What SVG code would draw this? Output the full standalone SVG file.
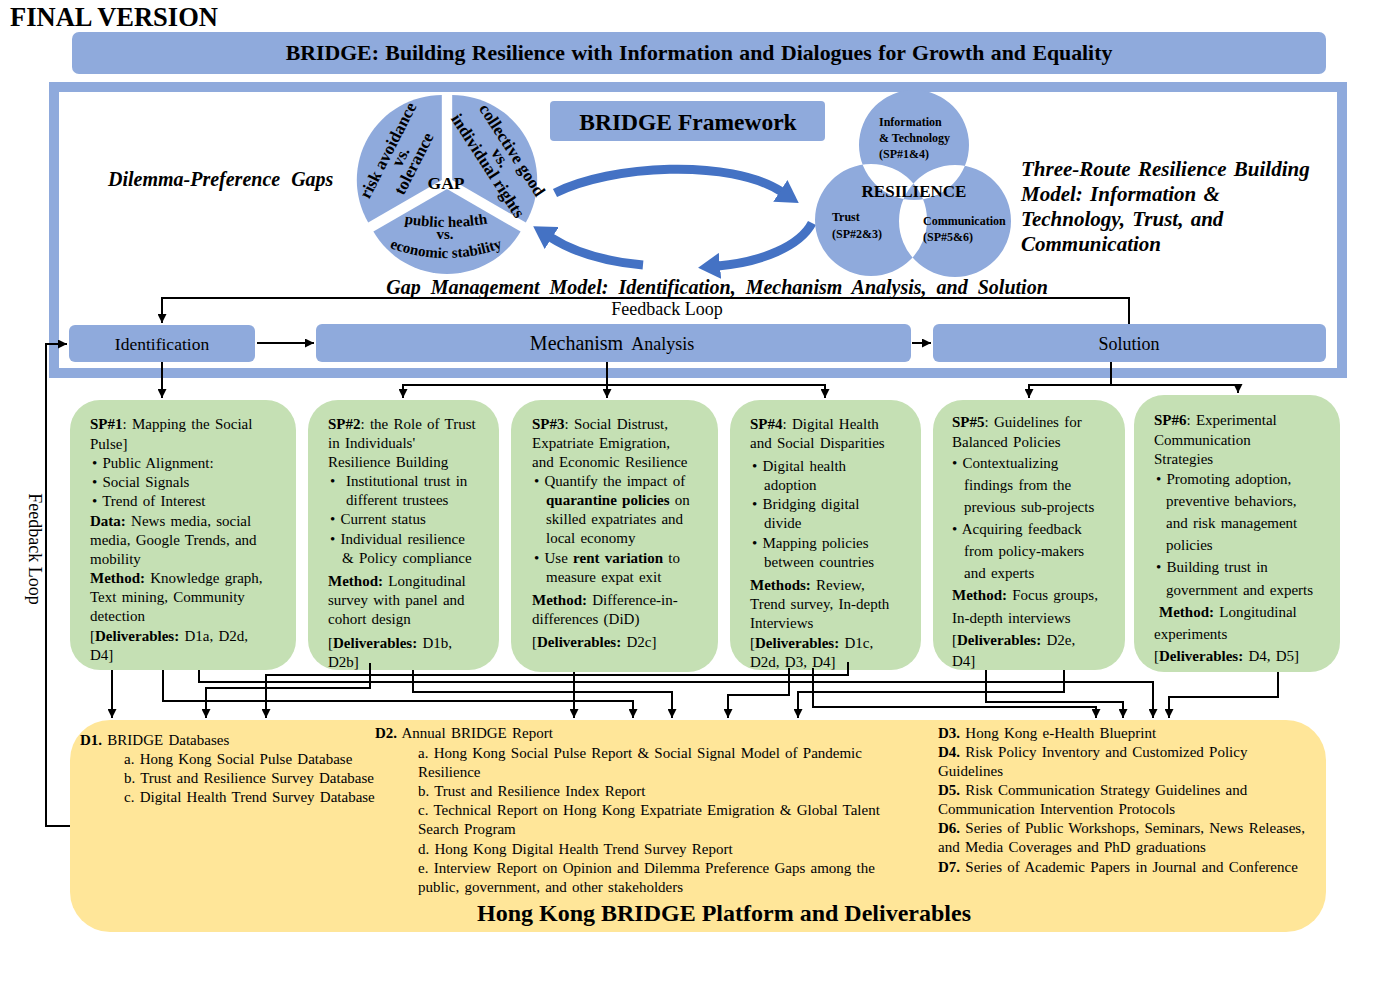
<svg xmlns="http://www.w3.org/2000/svg" width="1399" height="983" viewBox="0 0 1399 983">
<defs>
<style>
text{font-family:"Liberation Serif","Times New Roman",serif;fill:#000}
.b{font-weight:bold}
.bi{font-weight:bold;font-style:italic}
.blue{fill:#8FAADC}
.green{fill:#C5E0B4}
.sp{font-size:15px;word-spacing:1.5px}
.d{font-size:15px;word-spacing:1.5px}
.pie{font-size:17px;font-weight:bold}
.pie2{font-size:15px;font-weight:bold}
.ven{font-size:12px;font-weight:bold}
.con{fill:none;stroke:#000;stroke-width:2}
.big{fill:none;stroke:#4472C4;stroke-width:9}
</style>
<marker id="ah" viewBox="0 0 10 10" refX="10" refY="5" markerWidth="9" markerHeight="9" markerUnits="userSpaceOnUse" orient="auto"><path d="M0,0 L10,5 L0,10 z" fill="#000"/></marker>
<marker id="bh" viewBox="0 0 22 26" refX="2" refY="13" markerWidth="22" markerHeight="26" markerUnits="userSpaceOnUse" orient="auto"><path d="M0,0 L22,13 L0,26 z" fill="#4472C4"/></marker>
</defs>
<rect width="1399" height="983" fill="#fff"/>

<g id="title">
<text x="10" y="26" class="b" font-size="26.5">FINAL VERSION</text>
<rect x="72" y="32" width="1254" height="42" rx="7" class="blue"/>
<text x="699" y="60" class="b" font-size="21.8" text-anchor="middle" word-spacing="1">BRIDGE: Building Resilience with Information and Dialogues for Growth and Equality</text>
</g>

<rect id="frame" x="54" y="87" width="1288" height="286" fill="none" stroke="#8FAADC" stroke-width="10"/>

<g id="framework">
<rect x="550" y="101" width="275" height="40" rx="4" class="blue"/>
<text x="688" y="130" class="b" font-size="23.5" text-anchor="middle">BRIDGE Framework</text>
</g>

<text x="108" y="186" class="bi" font-size="20" word-spacing="6">Dilemma-Preference Gaps</text>

<g id="gap-pie">
<path d="M441.8,180 L441.8,95 A85 85 0 0 0 368.2,222.5 Z" class="blue"/>
<path d="M452.2,180 L452.2,95 A85 85 0 0 1 525.8,222.5 Z" class="blue"/>
<path d="M447,189 L373.4,231.5 A85 85 0 0 0 520.6,231.5 Z" class="blue"/>
<g transform="translate(401,157) rotate(-63)">
<text class="pie" text-anchor="middle" y="-9">risk avoidance</text>
<text class="pie" text-anchor="middle" y="5">vs.</text>
<text class="pie" text-anchor="middle" y="20">tolerance</text>
</g>
<g transform="translate(500,158) rotate(57)">
<text class="pie" text-anchor="middle" y="-9">collective good</text>
<text class="pie" text-anchor="middle" y="5">vs.</text>
<text class="pie" text-anchor="middle" y="20">individual rights</text>
</g>
<path id="arcA" d="M376,217 A250 250 0 0 0 516,217" fill="none"/>
<path id="arcB" d="M371,239.3 A160 160 0 0 0 521,239.3" fill="none"/>
<text class="pie2"><textPath href="#arcA" startOffset="50%" text-anchor="middle">public health</textPath></text>
<text class="pie2" font-size="13" x="445" y="239" text-anchor="middle">vs.</text>
<text class="pie2"><textPath href="#arcB" startOffset="50%" text-anchor="middle">economic stability</textPath></text>
<text x="446" y="189" class="b" font-size="17.5" text-anchor="middle">GAP</text>
</g>

<g id="cycle-arrows">
<path class="big" d="M555,193 C610,165 730,158 782,192" marker-end="url(#bh)"/>
<path class="big" d="M812,223 C800,246 762,262 718,266" marker-end="url(#bh)"/>
<path class="big" d="M643,265 C610,262 578,255 550,237" marker-end="url(#bh)"/>
</g>

<g id="resilience">
<path fill-rule="evenodd" class="blue" d="M859,145 a55,55 0 1,0 110,0 a55,55 0 1,0 -110,0 Z M815,220 a56,56 0 1,0 112,0 a56,56 0 1,0 -112,0 Z M899,221 a56,56 0 1,0 112,0 a56,56 0 1,0 -112,0 Z"/>
<text x="879" y="126" class="ven">Information</text>
<text x="879" y="142" class="ven">&amp; Technology</text>
<text x="879" y="158" class="ven">(SP#1&amp;4)</text>
<text x="914" y="197" class="b" font-size="17" text-anchor="middle">RESILIENCE</text>
<text x="832" y="221" class="ven" font-size="11">Trust</text>
<text x="832" y="238" class="ven" font-size="11">(SP#2&amp;3)</text>
<text x="923" y="225" class="ven" font-size="11">Communication</text>
<text x="923" y="241" class="ven" font-size="11">(SP#5&amp;6)</text>
</g>

<g id="three-route">
<text class="bi" font-size="21" word-spacing="2" x="1021" y="176">Three-Route Resilience Building</text>
<text class="bi" font-size="21" word-spacing="2" x="1021" y="201">Model: Information &amp;</text>
<text class="bi" font-size="21" word-spacing="2" x="1021" y="226">Technology, Trust, and</text>
<text class="bi" font-size="21" word-spacing="2" x="1021" y="251">Communication</text>
</g>

<text x="717" y="294" class="bi" font-size="20" word-spacing="5" text-anchor="middle">Gap Management Model: Identification, Mechanism Analysis, and Solution</text>
<text x="667" y="315" font-size="18" text-anchor="middle">Feedback Loop</text>

<g id="identification">
<rect x="69" y="325" width="186" height="37" rx="6" class="blue"/>
<text x="162" y="350" font-size="17.5" text-anchor="middle">Identification</text>
</g>
<g id="mechanism">
<rect x="316" y="324" width="595" height="38" rx="6" class="blue"/>
<text x="612" y="350" font-size="20" text-anchor="middle" word-spacing="3">Mechanism <tspan font-size="18">Analysis</tspan></text>
</g>
<g id="solution">
<rect x="933" y="324" width="393" height="38" rx="6" class="blue"/>
<text x="1129" y="350" font-size="18" text-anchor="middle">Solution</text>
</g>

<g id="sp1">
<rect x="70" y="400" width="226" height="270" rx="30" class="green"/>
<text class="sp" x="90" y="429"><tspan class="b">SP#1</tspan>: Mapping the Social</text>
<text class="sp" x="90" y="449">Pulse]</text>
<text class="sp" x="92" y="468">•  Public Alignment:</text>
<text class="sp" x="92" y="487">•  Social Signals</text>
<text class="sp" x="92" y="506">•  Trend of Interest</text>
<text class="sp" x="90" y="526"><tspan class="b">Data:</tspan> News media, social</text>
<text class="sp" x="90" y="545">media, Google Trends, and</text>
<text class="sp" x="90" y="564">mobility</text>
<text class="sp" x="90" y="583"><tspan class="b">Method:</tspan> Knowledge graph,</text>
<text class="sp" x="90" y="602">Text mining, Community</text>
<text class="sp" x="90" y="621">detection</text>
<text class="sp" x="90" y="641">[<tspan class="b">Deliverables:</tspan> D1a, D2d,</text>
<text class="sp" x="90" y="660">D4]</text>
</g>

<g id="sp2">
<rect x="308" y="400" width="191" height="270" rx="30" class="green"/>
<text class="sp" x="328" y="429"><tspan class="b">SP#2</tspan>: the Role of Trust</text>
<text class="sp" x="328" y="448">in Individuals'</text>
<text class="sp" x="328" y="467">Resilience Building</text>
<text class="sp" x="330" y="486">•</text><text class="sp" x="346" y="486">Institutional trust in</text>
<text class="sp" x="346" y="505">different trustees</text>
<text class="sp" x="330" y="524">•  Current status</text>
<text class="sp" x="330" y="544">•  Individual resilience</text>
<text class="sp" x="342" y="563">&amp; Policy compliance</text>
<text class="sp" x="328" y="586"><tspan class="b">Method:</tspan> Longitudinal</text>
<text class="sp" x="328" y="605">survey with panel and</text>
<text class="sp" x="328" y="624">cohort design</text>
<text class="sp" x="328" y="648">[<tspan class="b">Deliverables:</tspan> D1b,</text>
<text class="sp" x="328" y="667">D2b]</text>
</g>

<g id="sp3">
<rect x="511" y="400" width="207" height="272" rx="30" class="green"/>
<text class="sp" x="532" y="429"><tspan class="b">SP#3</tspan>: Social Distrust,</text>
<text class="sp" x="532" y="448">Expatriate Emigration,</text>
<text class="sp" x="532" y="467">and Economic Resilience</text>
<text class="sp" x="534" y="486">•  Quantify the impact of</text>
<text class="sp" x="546" y="505"><tspan class="b">quarantine policies</tspan> on</text>
<text class="sp" x="546" y="524">skilled expatriates and</text>
<text class="sp" x="546" y="543">local economy</text>
<text class="sp" x="534" y="563">•  Use <tspan class="b">rent variation</tspan> to</text>
<text class="sp" x="546" y="582">measure expat exit</text>
<text class="sp" x="532" y="605"><tspan class="b">Method:</tspan> Difference-in-</text>
<text class="sp" x="532" y="624">differences (DiD)</text>
<text class="sp" x="532" y="647">[<tspan class="b">Deliverables:</tspan> D2c]</text>
</g>

<g id="sp4">
<rect x="730" y="400" width="191" height="270" rx="30" class="green"/>
<text class="sp" x="750" y="429"><tspan class="b">SP#4</tspan>: Digital Health</text>
<text class="sp" x="750" y="448">and Social Disparities</text>
<text class="sp" x="752" y="471">•  Digital health</text>
<text class="sp" x="764" y="490">adoption</text>
<text class="sp" x="752" y="509">•  Bridging digital</text>
<text class="sp" x="764" y="528">divide</text>
<text class="sp" x="752" y="548">•  Mapping policies</text>
<text class="sp" x="764" y="567">between countries</text>
<text class="sp" x="750" y="590"><tspan class="b">Methods:</tspan> Review,</text>
<text class="sp" x="750" y="609">Trend survey, In-depth</text>
<text class="sp" x="750" y="628">Interviews</text>
<text class="sp" x="750" y="648">[<tspan class="b">Deliverables:</tspan> D1c,</text>
<text class="sp" x="750" y="667">D2d, D3, D4]</text>
</g>

<g id="sp5">
<rect x="933" y="400" width="192" height="270" rx="30" class="green"/>
<text class="sp" x="952" y="427"><tspan class="b">SP#5</tspan>: Guidelines for</text>
<text class="sp" x="952" y="447">Balanced Policies</text>
<text class="sp" x="952" y="468">•  Contextualizing</text>
<text class="sp" x="964" y="490">findings from the</text>
<text class="sp" x="964" y="512">previous sub-projects</text>
<text class="sp" x="952" y="534">•  Acquiring feedback</text>
<text class="sp" x="964" y="556">from policy-makers</text>
<text class="sp" x="964" y="578">and experts</text>
<text class="sp" x="952" y="600"><tspan class="b">Method:</tspan> Focus groups,</text>
<text class="sp" x="952" y="623">In-depth interviews</text>
<text class="sp" x="952" y="645">[<tspan class="b">Deliverables:</tspan> D2e,</text>
<text class="sp" x="952" y="666">D4]</text>
</g>

<g id="sp6">
<rect x="1134" y="395" width="206" height="277" rx="30" class="green"/>
<text class="sp" x="1154" y="425"><tspan class="b">SP#6</tspan>: Experimental</text>
<text class="sp" x="1154" y="445">Communication</text>
<text class="sp" x="1154" y="464">Strategies</text>
<text class="sp" x="1156" y="484">•  Promoting adoption,</text>
<text class="sp" x="1166" y="506">preventive behaviors,</text>
<text class="sp" x="1166" y="528">and risk management</text>
<text class="sp" x="1166" y="550">policies</text>
<text class="sp" x="1156" y="572">•  Building trust in</text>
<text class="sp" x="1166" y="595">government and experts</text>
<text class="sp" x="1159" y="617"><tspan class="b">Method:</tspan> Longitudinal</text>
<text class="sp" x="1154" y="639">experiments</text>
<text class="sp" x="1154" y="661">[<tspan class="b">Deliverables:</tspan> D4, D5]</text>
</g>

<g id="deliverables">
<rect x="70" y="720" width="1256" height="212" rx="40" fill="#FFE699"/>
<text class="d" x="80" y="745"><tspan class="b">D1.</tspan> BRIDGE Databases</text>
<text class="d" x="124" y="764">a. Hong Kong Social Pulse Database</text>
<text class="d" x="124" y="783">b. Trust and Resilience Survey Database</text>
<text class="d" x="124" y="802">c. Digital Health Trend Survey Database</text>
<text class="d" x="375" y="738"><tspan class="b">D2.</tspan> Annual BRIDGE Report</text>
<text class="d" x="418" y="758">a. Hong Kong Social Pulse Report &amp; Social Signal Model of Pandemic</text>
<text class="d" x="418" y="777">Resilience</text>
<text class="d" x="418" y="796">b. Trust and Resilience Index Report</text>
<text class="d" x="418" y="815">c. Technical Report on Hong Kong Expatriate Emigration &amp; Global Talent</text>
<text class="d" x="418" y="834">Search Program</text>
<text class="d" x="418" y="854">d. Hong Kong Digital Health Trend Survey Report</text>
<text class="d" x="418" y="873">e. Interview Report on Opinion and Dilemma Preference Gaps among the</text>
<text class="d" x="418" y="892">public, government, and other stakeholders</text>
<text class="d" x="938" y="738"><tspan class="b">D3.</tspan> Hong Kong e-Health Blueprint</text>
<text class="d" x="938" y="757"><tspan class="b">D4.</tspan> Risk Policy Inventory and Customized Policy</text>
<text class="d" x="938" y="776">Guidelines</text>
<text class="d" x="938" y="795"><tspan class="b">D5.</tspan> Risk Communication Strategy Guidelines and</text>
<text class="d" x="938" y="814">Communication Intervention Protocols</text>
<text class="d" x="938" y="833"><tspan class="b">D6.</tspan> Series of Public Workshops, Seminars, News Releases,</text>
<text class="d" x="938" y="852">and Media Coverages and PhD graduations</text>
<text class="d" x="938" y="872"><tspan class="b">D7.</tspan> Series of Academic Papers in Journal and Conference</text>
<text x="724" y="921" class="b" font-size="24" text-anchor="middle">Hong Kong BRIDGE Platform and Deliverables</text>
</g>

<text transform="translate(29,549) rotate(90)" font-size="18" text-anchor="middle">Feedback Loop</text>

<g id="connectors">
<path class="con" d="M1129,324 V298 H162 V323" marker-end="url(#ah)"/>
<path class="con" d="M257,343 H314" marker-end="url(#ah)"/>
<path class="con" d="M912,343 H931" marker-end="url(#ah)"/>
<path class="con" d="M70,826 H46 V344 H67" marker-end="url(#ah)"/>
<path class="con" d="M162,362 V398" marker-end="url(#ah)"/>
<path class="con" d="M607,362 V398" marker-end="url(#ah)"/>
<path class="con" d="M607,385 H403 V398" marker-end="url(#ah)"/>
<path class="con" d="M607,385 H825 V398" marker-end="url(#ah)"/>
<path class="con" d="M1111,362 V385 H1029 V398" marker-end="url(#ah)"/>
<path class="con" d="M1111,385 H1238 V393" marker-end="url(#ah)"/>
<path class="con" d="M112,670 V718" marker-end="url(#ah)"/>
<path class="con" d="M163,670 V701 H633 V718" marker-end="url(#ah)"/>
<path class="con" d="M199,670 V682 H1153 V718" marker-end="url(#ah)"/>
<path class="con" d="M848,662 V675 H266 V718" marker-end="url(#ah)"/>
<path class="con" d="M370,663 V688 H206 V718" marker-end="url(#ah)"/>
<path class="con" d="M413,670 V692 H672 V718" marker-end="url(#ah)"/>
<path class="con" d="M574,672 V718" marker-end="url(#ah)"/>
<path class="con" d="M789,668 V695 H728 V718" marker-end="url(#ah)"/>
<path class="con" d="M1064,670 V692 H798 V718" marker-end="url(#ah)"/>
<path class="con" d="M986,670 V702 H1123 V718" marker-end="url(#ah)"/>
<path class="con" d="M813,668 V707 H1096 V718" marker-end="url(#ah)"/>
<path class="con" d="M1278,672 V697 H1169 V718" marker-end="url(#ah)"/>
</g>
</svg>
